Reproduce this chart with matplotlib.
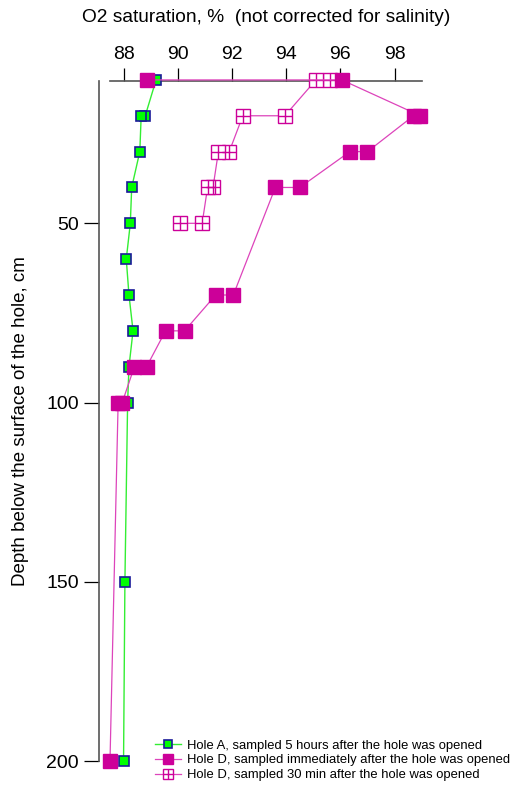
import matplotlib
matplotlib.use("Agg")
from matplotlib import pyplot as plt
from matplotlib.legend_handler import HandlerTuple

plt.rcParams['font.family'] = ['Liberation Sans', 'DejaVu Sans']

# Hole A, sampled 5 hours after opening
depth_a = [10, 20, 20, 30, 40, 50, 60, 70, 80, 90, 100, 150, 200]
o2_a = [89.2, 88.8, 88.65, 88.6, 88.3, 88.25, 88.1, 88.2, 88.35, 88.2, 88.15, 88.05, 88.0]

# Hole D, sampled immediately
depth_d0 = [10, 10, 20, 20, 30, 30, 40, 40, 70, 70, 80, 80, 90, 90, 100, 100, 200]
o2_d0 = [88.85, 96.05, 98.95, 98.7, 97.0, 96.35, 94.5, 93.6, 92.05, 91.4,
         90.25, 89.55, 88.85, 88.4, 87.95, 87.8, 87.5]

# Hole D, sampled 30 min after opening
depth_d30 = [10, 10, 20, 20, 30, 30, 40, 40, 50, 50]
o2_d30 = [95.6, 95.1, 93.95, 92.4, 91.9, 91.5, 91.3, 91.1, 90.9, 90.1]

xticks = [88, 90, 92, 94, 96, 98]
yticks = [50, 100, 150, 200]

labels = ["Hole A, sampled 5 hours after the hole was opened",
          "Hole D, sampled immediately after the hole was opened",
          "Hole D, sampled 30 min after the hole was opened"]

mag = '#CC0099'
fig = plt.figure(figsize=(5.24, 7.92), dpi=100)
ax = fig.add_axes([110 / 524, 31 / 792, 311.7 / 524, 680 / 792])

la, = ax.plot(o2_a, depth_a, color='#33EE33', lw=1.0, marker='s', ms=7.5,
              mfc='#00FF00', mec='#1A1A99', mew=1.2, clip_on=False, zorder=3)
l30, = ax.plot(o2_d30, depth_d30, color='#DD44BB', lw=0.9, marker='s', ms=9.5,
               mfc='white', mec=mag, mew=1.0, clip_on=False, zorder=4)
p30, = ax.plot(o2_d30, depth_d30, ls='none', marker='+', ms=9.5, mec=mag,
               mew=1.0, clip_on=False, zorder=5)
l0, = ax.plot(o2_d0, depth_d0, color='#DD44BB', lw=0.9, marker='s', ms=9.5,
              mfc=mag, mec=mag, clip_on=False, zorder=6)

ax.set_xlim(87.5, 99.0)
ax.set_ylim(200, 10.3)
ax.set_xticks(xticks)
ax.set_yticks(yticks)
ax.xaxis.tick_top()
ax.xaxis.set_label_position('top')
ax.tick_params(axis='x', direction='out', length=9.5, width=0.9, labelsize=14, pad=3.5)
ax.tick_params(axis='y', direction='out', length=10.5, width=0.9, labelsize=14, pad=4)
ax.set_xlabel("O2 saturation, %  (not corrected for salinity)", fontsize=13.8, labelpad=17)
ax.set_ylabel("Depth below the surface of the hole, cm", fontsize=13.5, labelpad=12)

for s in ['bottom', 'right']:
    ax.spines[s].set_visible(False)
ax.spines['left'].set_position(('outward', 8))
for s in ['top', 'left']:
    ax.spines[s].set_color('#555555')
    ax.spines[s].set_linewidth(1.2)

fig.legend([la, l0, (l30, p30)], labels, loc='upper left',
           bbox_to_anchor=(148 / 524, 1 - 733 / 792), frameon=False,
           fontsize=9.4, handlelength=2.0, handletextpad=0.5, labelspacing=0.2,
           borderpad=0, markerscale=0.7,
           handler_map={tuple: HandlerTuple(ndivide=1, pad=0)})

fig.savefig("out.png", dpi=100)
